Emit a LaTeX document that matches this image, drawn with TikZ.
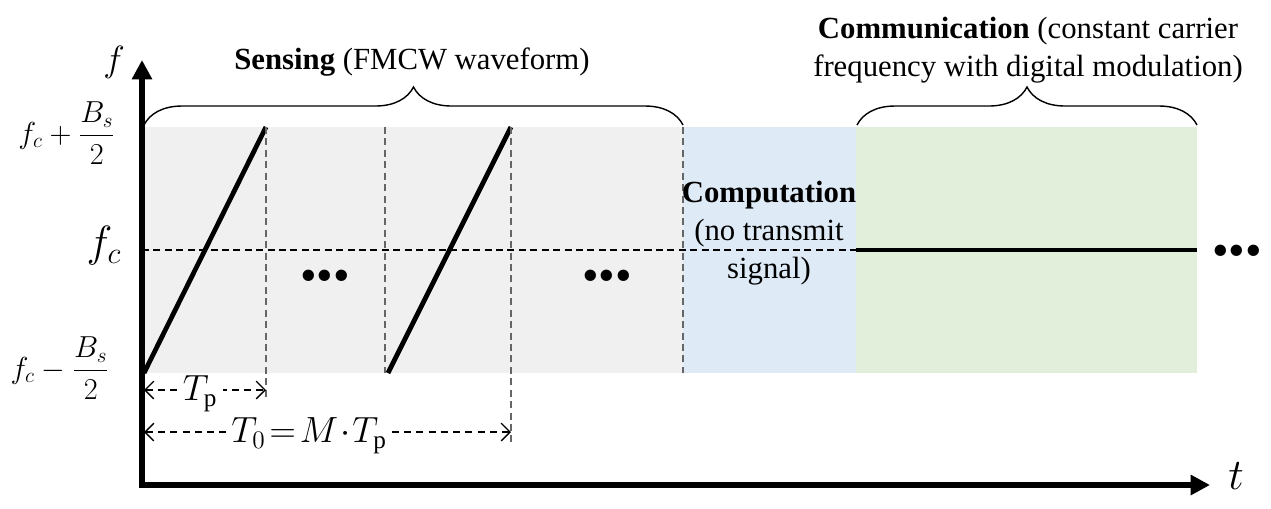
\documentclass[tikz,border=0pt]{standalone}
\usepackage{amsmath}
\usepackage{fontspec}
\setmainfont{Liberation Serif}
\usetikzlibrary{arrows.meta,decorations.pathreplacing,positioning}

\definecolor{sensgray}{HTML}{F0F0F0}
\definecolor{compblue}{HTML}{DEEAF6}
\definecolor{commgreen}{HTML}{E2EFDA}

\begin{document}
\begin{tikzpicture}[x=0.02cm, y=-0.02cm,
    axis/.style={line width=3.2pt, -{Triangle[length=11pt,width=11pt]}},
    ramp/.style={line width=2.7pt},
    guide/.style={gray!80!black, line width=0.6pt, dash pattern=on 4pt off 2.5pt},
    span/.style={line width=0.8pt, dash pattern=on 4pt off 3pt, {Straight Barb[length=5pt,width=10pt]}-{Straight Barb[length=5pt,width=10pt]}},
    brace/.style={decorate, decoration={brace, amplitude=0.76cm}, line width=0.8pt},
    lbl/.style={font=\fontsize{17.5}{21.5}\selectfont, align=center, inner sep=1pt},
    dots/.style={font=\fontsize{27}{27}\selectfont, inner sep=0pt},
    dimlbl/.style={fill=white, inner xsep=3pt, inner ysep=1pt, font=\fontsize{20.5}{20.5}\selectfont, yshift=-2pt},
    level/.style={font=\fontsize{18}{18}\selectfont}
]
\useasboundingbox (0,0) rectangle (1271,508);

% Regions
\fill[sensgray] (142,127) rectangle (683,373);
\fill[compblue] (683,127) rectangle (856,373);
\fill[commgreen] (856,127) rectangle (1197,373);

% Axes
\coordinate (O) at (142,485);
\coordinate (ytip) at (142,60);
\coordinate (xtip) at (1210,485);
\draw[axis] ([yshift=-1.6pt]O) -- (ytip);
\draw[axis] ([xshift=-1.6pt]O) -- (xtip);
\node[font=\fontsize{22}{22}\selectfont] (flbl) at (114,62) {$f$};
\node[font=\fontsize{30}{30}\selectfont] (tlbl) at (1236,476) {$t$};

% Frequency levels
\node[level] (fhi) at (67,133) {$f_c+\dfrac{B_s}{2}$};
\node[font=\fontsize{26}{26}\selectfont] (fmid) at (104,246) {$f_c$};
\node[level] (flo) at (60,368) {$f_c-\dfrac{B_s}{2}$};

% Chirps
\coordinate (c1a) at (144,373);
\coordinate (c1b) at (266,127);
\coordinate (c2a) at (388,373);
\coordinate (c2b) at (511,127);
\draw[ramp] (c1a) -- (c1b);
\draw[ramp] (c2a) -- (c2b);
\draw[guide] (c1b) -- (266,397);
\draw[guide] (385,127) -- (385,373);
\draw[guide] (c2b) -- (511,445);
\draw[guide] (683,127) -- (683,373);
\draw[line width=0.6pt, dash pattern=on 4pt off 2.5pt] (142,250) -- (856,250);

% Communication carrier
\draw[line width=2.6pt] (856,250) -- (1197,250);

% Dots
\node[dots] (d1) at (325,281) {\textbullet\textbullet\textbullet};
\node[dots] (d2) at (607,281) {\textbullet\textbullet\textbullet};
\node[dots] (d3) at (1237,256) {\textbullet\textbullet\textbullet};

% Durations
\coordinate (tp0) at (144,390);
\coordinate (tp1) at (266,390);
\coordinate (t00) at (144,432);
\coordinate (t01) at (511,432);
\draw[span] (tp0) -- (tp1) node[dimlbl, pos=0.46] (tplbl) {$T_{\mathrm{p}}$};
\draw[span] (t00) -- (t01) node[dimlbl, pos=0.45] (t0lbl) {$T_{0}\!=\!M\!\cdot\! T_{\mathrm{p}}$};

% Braces and phase labels
\draw[brace] (144,125) -- (683,125);
\draw[brace] (857,125) -- (1197,125);
\node[lbl] (sens) at (412,62) {\textbf{Sensing} (FMCW waveform)};
\node[lbl] (comm) at (1028,50) {\textbf{Communication} (constant carrier\\frequency with digital modulation)};
\node[lbl] (comp) at (769,233) {\textbf{Computation}\\(no transmit\\signal)};
\end{tikzpicture}
\end{document}
